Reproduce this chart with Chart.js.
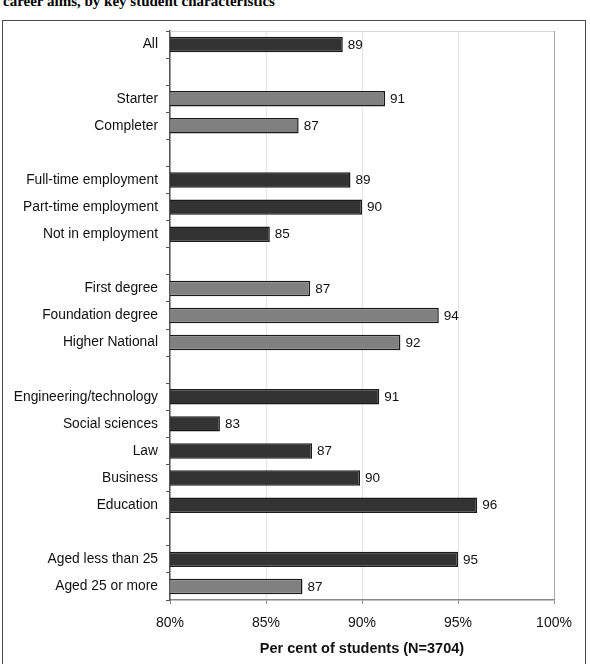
<!DOCTYPE html>
<html lang="en">
<head>
<meta charset="UTF-8">
<title>Career aims, by key student characteristics</title>
<script src="https://cdn.jsdelivr.net/npm/chart.js@4.4.8/dist/chart.umd.min.js"></script>
<style>
  html, body { margin: 0; padding: 0; background: #fff; }
  body { width: 590px; height: 664px; position: relative; overflow: hidden; }
  .title {
    position: absolute; left: 3px; top: -6px; margin: 0;
    font: bold 15px "Liberation Serif", "Times New Roman", serif;
    line-height: 15px; color: #000; white-space: nowrap;
  }
  .frame {
    position: absolute; left: 2px; top: 20px; width: 582px; height: 700px;
    border: 1.5px solid #4a4a4a;
  }
  #chart { position: absolute; left: 0; top: 0; }
</style>
</head>
<body>
<h1 class="title">career aims, by key student characteristics</h1>
<div class="frame"></div>
<canvas id="chart" width="590" height="664"></canvas>

<script>
// categories, top to bottom ('' = spacer row between groups)
const categories = [
  'All', '',
  'Starter', 'Completer', '',
  'Full-time employment', 'Part-time employment', 'Not in employment', '',
  'First degree', 'Foundation degree', 'Higher National', '',
  'Engineering/technology', 'Social sciences', 'Law', 'Business', 'Education', '',
  'Aged less than 25', 'Aged 25 or more'
];

// per cent of students (N=3704)
const shares = [
  89.0, null,
  91.2, 86.7, null,
  89.4, 90.0, 85.2, null,
  87.3, 94.0, 92.0, null,
  90.9, 82.6, 87.4, 89.9, 96.0, null,
  95.0, 86.9
];

// rows drawn in the lighter grey
const lightRows = ['Starter', 'Completer', 'First degree', 'Foundation degree', 'Higher National', 'Aged 25 or more'];

const xTicks = [80, 85, 90, 95, 100];

const FONT = '"Liberation Sans", Arial, sans-serif';
const barColors = categories.map(c => lightRows.includes(c) ? '#808080' : '#333333');

// numbers at the end of each bar
const valueLabels = {
  id: 'valueLabels',
  afterDatasetsDraw(chart) {
    const ctx = chart.ctx;
    const meta = chart.getDatasetMeta(0);
    ctx.save();
    ctx.font = '13.5px ' + FONT;
    ctx.fillStyle = '#111';
    ctx.textAlign = 'left';
    ctx.textBaseline = 'middle';
    meta.data.forEach((bar, i) => {
      if (shares[i] == null) return;
      ctx.fillText(Math.round(shares[i]), bar.x + 5, bar.y + 0.5);
    });
    ctx.restore();
  }
};

// thin top edge of plot area
const plotTop = {
  id: 'plotTop',
  beforeDatasetsDraw(chart) {
    const { ctx, chartArea: a } = chart;
    ctx.save();
    ctx.strokeStyle = '#d4d4d4';
    ctx.lineWidth = 1;
    ctx.beginPath();
    ctx.moveTo(a.left, a.top + 0.5);
    ctx.lineTo(a.right, a.top + 0.5);
    ctx.stroke();
    ctx.restore();
  }
};

new Chart(document.getElementById('chart'), {
  type: 'bar',
  data: {
    labels: categories,
    datasets: [{
      data: shares,
      backgroundColor: barColors,
      borderColor: '#1a1a1a',
      borderWidth: 1.5,
      borderSkipped: false,
      categoryPercentage: 1,
      barPercentage: 0.57
    }]
  },
  options: {
    indexAxis: 'y',
    responsive: false,
    devicePixelRatio: 1,
    animation: false,
    layout: { padding: { top: 31, right: 36, left: 0, bottom: 0 } },
    plugins: {
      legend: { display: false },
      tooltip: { enabled: false }
    },
    scales: {
      x: {
        position: 'bottom',
        min: 80,
        max: 100,
        afterBuildTicks: s => { s.ticks = xTicks.map(v => ({ value: v })); },
        afterFit: s => { s.height = 64; },
        ticks: {
          callback: v => v + '%',
          color: '#111',
          font: { family: FONT, size: 14 },
          padding: 11,
          maxRotation: 0
        },
        grid: {
          color: c => c.tick && c.tick.value === 100 ? '#a8a8a8' : '#e4e4e4',
          tickColor: '#888',
          tickLength: 4,
          lineWidth: 1
        },
        border: { color: '#888', width: 1.5 },
        title: {
          display: true,
          text: 'Per cent of students (N=3704)',
          color: '#111',
          font: { family: FONT, size: 14.5, weight: 'bold' },
          padding: { top: 4, bottom: 6 }
        }
      },
      y: {
        afterFit: s => { s.width = 170; },
        ticks: {
          color: '#111',
          font: { family: FONT, size: 13.8 },
          padding: 8,
          autoSkip: false
        },
        grid: {
          drawOnChartArea: false,
          tickColor: '#555',
          tickLength: 4
        },
        border: { color: '#555', width: 1.5 }
      }
    }
  },
  plugins: [plotTop, valueLabels]
});
</script>
</body>
</html>
